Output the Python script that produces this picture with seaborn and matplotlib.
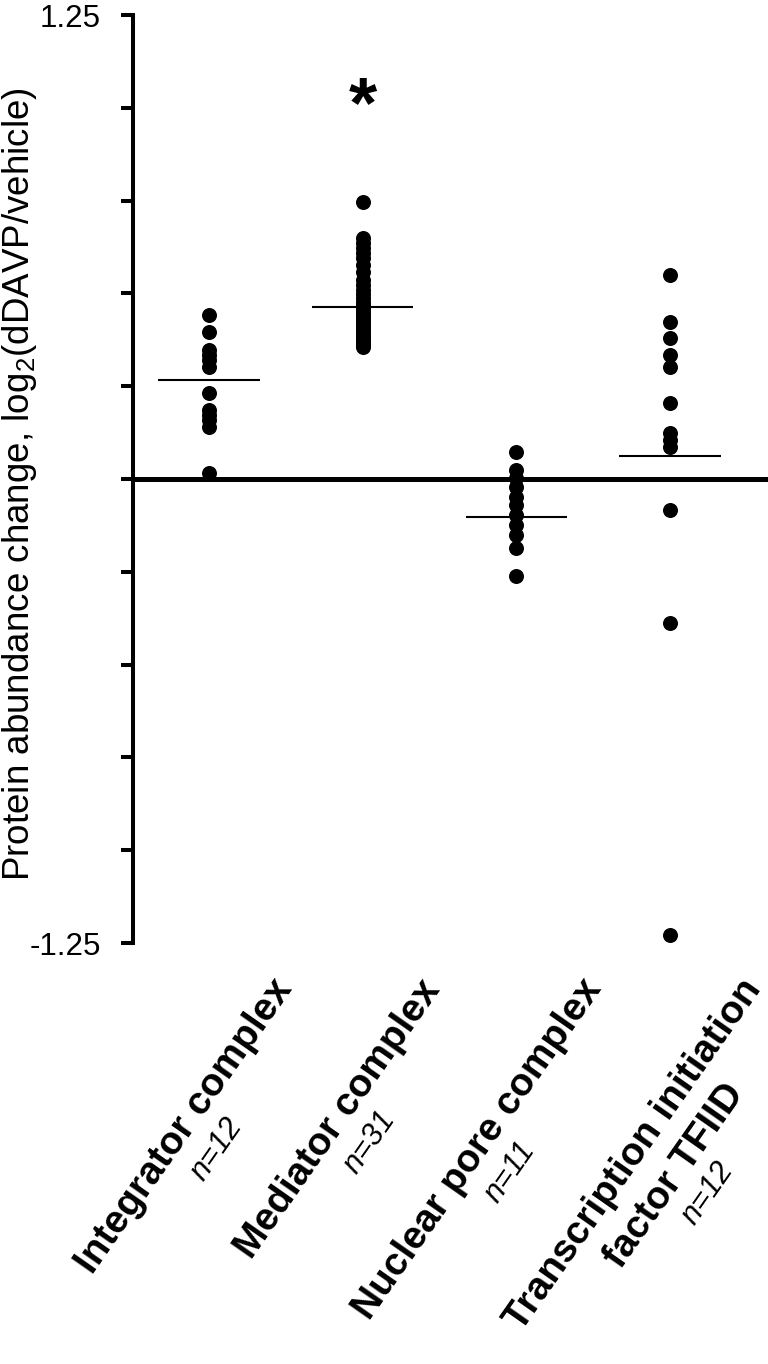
import numpy as np
import pandas as pd
import matplotlib
matplotlib.use("Agg")
import matplotlib.pyplot as plt
import matplotlib.transforms as mtransforms
from matplotlib.ticker import FixedLocator, FixedFormatter
import seaborn as sns

# ---------------- data ----------------
categories = ["Integrator complex", "Mediator complex", "Nuclear pore complex",
              "Transcription initiation\nfactor TFIID"]
n_labels = ["n=12", "n=31", "n=11", "n=12"]

integrator = [0.442, 0.396, 0.348, 0.334, 0.321, 0.302, 0.232, 0.186, 0.172,
              0.159, 0.140, 0.016]
mediator = [0.745, 0.650, 0.637, 0.623, 0.610, 0.596, 0.577, 0.558, 0.537,
            0.523, 0.510, 0.499, 0.488, 0.478, 0.469, 0.461, 0.453, 0.445,
            0.437, 0.429, 0.421, 0.413, 0.405, 0.397, 0.388, 0.383, 0.378,
            0.372, 0.367, 0.362, 0.356]
nuclear_pore = [0.073, 0.024, 0.003, -0.022, -0.048, -0.070, -0.097, -0.124,
                -0.151, -0.186, -0.262]
tfiid = [0.550, 0.423, 0.380, 0.334, 0.302, 0.205, 0.124, 0.105, 0.086,
         -0.084, -0.388, -1.228]
group_means = [0.267, 0.463, -0.102, 0.062]
significant = [False, True, False, False]

y_ticks = [-1.25, -1.0, -0.75, -0.5, -0.25, 0.0, 0.25, 0.5, 0.75, 1.0, 1.25]
y_tick_labels = ["-1.25", "", "", "", "", "", "", "", "", "", "1.25"]
y_label = "Protein abundance change, log$_2$(dDAVP/vehicle)"

# label anchor offsets (pixels right / down from tick at axis bottom)
label_offsets = [(76, 40), (70, 41), (78, 40), (84, 40)]
label_rotation = 55

# ---------------- style ----------------
sns.set_style("white")
plt.rcParams["font.family"] = ["Liberation Sans", "DejaVu Sans"]
plt.rcParams["axes.unicode_minus"] = False
plt.rcParams["mathtext.fontset"] = "custom"
plt.rcParams["mathtext.rm"] = "Liberation Sans"
plt.rcParams["mathtext.it"] = "Liberation Sans:italic"
plt.rcParams["mathtext.bf"] = "Liberation Sans:bold"

groups = [integrator, mediator, nuclear_pore, tfiid]
df = pd.DataFrame({
    "group": np.repeat(categories, [len(g) for g in groups]),
    "value": np.concatenate(groups),
})

W, H = 768, 1364
fig = plt.figure(figsize=(W / 100, H / 100), dpi=100)
ax = fig.add_axes([133 / W, 1 - 943 / H, 1 - 133 / W, (943 - 15) / H])

sns.stripplot(data=df, x="group", y="value", order=categories, jitter=False,
              color="black", size=10.8, linewidth=0, ax=ax, zorder=3)

xs = np.arange(len(categories))
ax.hlines(group_means, xs - 0.33, xs + 0.33, color="black", lw=1.5, zorder=4)
ax.axhline(0, color="black", lw=3.6, zorder=2)

ax.set_xlim(-0.494, 3.637)
ax.set_ylim(-1.25, 1.25)
for s in ["top", "right", "bottom"]:
    ax.spines[s].set_visible(False)
ax.spines["left"].set_linewidth(2.9)
ax.spines["left"].set_color("black")

ax.yaxis.set_major_locator(FixedLocator(y_ticks))
ax.yaxis.set_major_formatter(FixedFormatter(y_tick_labels))
ax.tick_params(axis="y", left=True, direction="out", length=9, width=2.9,
               pad=14, labelsize=22.5, colors="black")
ax.tick_params(axis="x", bottom=False, labelbottom=False)
ax.set_xlabel("")
ax.set_ylabel(y_label, fontsize=26.5, va="center", color="black")
ax.yaxis.set_label_coords(-0.1795, 0.495)

# significance marks
for i, sig in enumerate(significant):
    if sig:
        ax.text(xs[i], 1.0, "*", ha="center", va="center", fontsize=52,
                fontweight="bold", color="black")

# category labels: first line right-anchored near tick, further lines centred below
base = mtransforms.blended_transform_factory(ax.transData, ax.transAxes)
theta = np.deg2rad(label_rotation)
perp = np.array([np.sin(theta), -np.cos(theta)])   # display coords, "next line" direction
along = np.array([np.cos(theta), np.sin(theta)])
first_texts = []
for i, (name, (dx, dy)) in enumerate(zip(categories, label_offsets)):
    first_line = name.split("\n")[0]
    tr = base + mtransforms.ScaledTranslation(dx / 100, -dy / 100, fig.dpi_scale_trans)
    t = ax.text(xs[i], 0, first_line, transform=tr, rotation=label_rotation,
                rotation_mode="anchor", ha="right", va="center", fontsize=28,
                fontweight="bold", color="black", clip_on=False)
    first_texts.append(t)

fig.canvas.draw()
renderer = fig.canvas.get_renderer()
inv = fig.transFigure.inverted()
for t, name, nl in zip(first_texts, categories, n_labels):
    bb = t.get_window_extent(renderer)
    c = np.array([(bb.x0 + bb.x1) / 2, (bb.y0 + bb.y1) / 2])
    for extra in name.split("\n")[1:]:
        c = c + 46 * perp + 6 * along
        pf = inv.transform(c)
        fig.text(pf[0], pf[1], extra, rotation=label_rotation, rotation_mode="anchor",
                 ha="center", va="center", fontsize=28, fontweight="bold",
                 color="black")
    multi = "\n" in name
    p = c + (37 if multi else 39) * perp + (5 if multi else 0) * along
    pf = inv.transform(p)
    fig.text(pf[0], pf[1], nl, rotation=label_rotation, rotation_mode="anchor",
             ha="center", va="center", fontsize=22, fontstyle="italic",
             color="black")

fig.savefig("out.png", dpi=100)
